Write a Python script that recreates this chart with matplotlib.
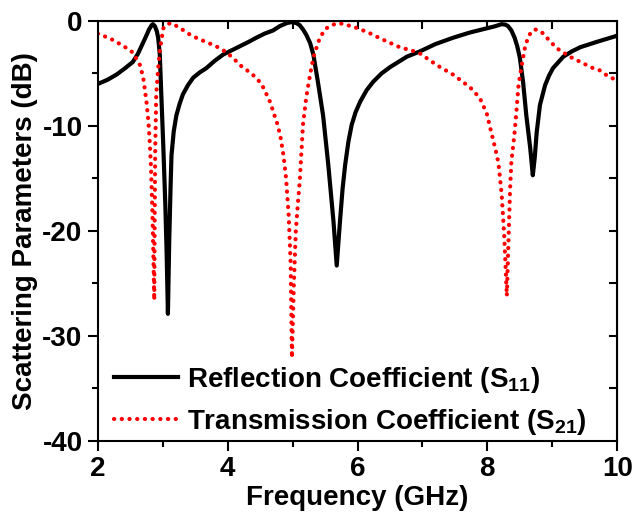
import matplotlib
matplotlib.use("Agg")
import matplotlib.pyplot as plt

plt.rcParams["font.family"] = "Liberation Sans"
plt.rcParams["font.weight"] = "bold"
plt.rcParams["axes.unicode_minus"] = False
plt.rcParams["mathtext.fontset"] = "custom"
plt.rcParams["mathtext.rm"] = "Liberation Sans:bold"
plt.rcParams["mathtext.default"] = "regular"

# S11 (reflection)
s11_f = [2.0, 2.15, 2.29, 2.42, 2.54, 2.62, 2.68, 2.74, 2.79, 2.83, 2.85, 2.88,
         2.91, 2.93, 2.955, 2.98, 3.01, 3.04, 3.06, 3.08, 3.10, 3.12, 3.135, 3.17,
         3.21, 3.26, 3.31, 3.39, 3.47, 3.57, 3.67, 3.80, 3.93, 4.06, 4.19, 4.32,
         4.44, 4.57, 4.70, 4.80, 4.91, 4.99, 5.06, 5.11, 5.16, 5.21, 5.27, 5.32,
         5.39, 5.47, 5.55, 5.63, 5.68, 5.73, 5.77, 5.81, 5.86, 5.91, 5.97, 6.04,
         6.14, 6.24, 6.37, 6.5, 6.63, 6.76, 6.96, 7.2, 7.47, 7.73, 7.99, 8.12,
         8.22, 8.28, 8.32, 8.37, 8.42, 8.46, 8.50, 8.55, 8.60, 8.66, 8.70, 8.73,
         8.76, 8.81, 8.89, 8.95, 9.01, 9.17, 9.30, 9.43, 9.68, 10.0]
s11_db = [-6.0, -5.6, -5.1, -4.5, -3.9, -3.1, -2.3, -1.5, -0.8, -0.4, -0.3, -0.5,
          -1.0, -1.6, -3.2, -7.3, -12.1, -17.5, -22.0, -27.9, -21.0, -16.0, -12.8, -10.5,
          -9.0, -7.9, -7.0, -6.1, -5.4, -4.9, -4.5, -3.8, -3.2, -2.8, -2.4, -2.0,
          -1.6, -1.2, -0.9, -0.5, -0.2, -0.1, -0.2, -0.4, -0.8, -1.3, -2.1, -3.2,
          -5.8, -9.0, -13.7, -19.1, -23.3, -19.1, -16.0, -13.7, -11.5, -9.9, -8.7, -7.7,
          -6.6, -5.8, -5.0, -4.4, -3.9, -3.4, -2.9, -2.2, -1.6, -1.1, -0.7, -0.5,
          -0.3, -0.35, -0.5, -0.9, -1.6, -2.4, -3.5, -5.8, -9.0, -12.1, -14.7, -13.0,
          -10.6, -8.0, -6.1, -5.2, -4.5, -3.4, -2.9, -2.5, -2.0, -1.4]

# S21 (transmission)
s21_f = [2.0, 2.2, 2.4, 2.54, 2.65, 2.70, 2.75, 2.78, 2.80, 2.82, 2.84, 2.855, 2.87,
         2.875, 2.885, 2.90, 2.93, 2.96, 3.01, 3.07, 3.13, 3.25, 3.42, 3.55, 3.67,
         3.82, 3.96, 4.08, 4.19, 4.32, 4.44, 4.53, 4.6, 4.66, 4.7, 4.76, 4.81, 4.86,
         4.90, 4.94, 4.97, 4.99, 5.02, 5.05, 5.08, 5.11, 5.14, 5.16, 5.21, 5.27, 5.32,
         5.37, 5.42, 5.47, 5.52, 5.60, 5.70, 5.80, 5.90, 6.01, 6.2, 6.4, 6.65, 6.94,
         7.22, 7.47, 7.73, 7.88, 7.99, 8.06, 8.12, 8.17, 8.22, 8.26, 8.30, 8.33, 8.35,
         8.37, 8.42, 8.45, 8.48, 8.53, 8.58, 8.62, 8.66, 8.73, 8.80, 8.86, 8.96, 9.07,
         9.17, 9.27, 9.40, 9.53, 9.63, 9.73, 9.82, 9.91, 10.0]
s21_db = [-1.2, -1.7, -2.4, -3.0, -4.2, -5.4, -7.7, -9.6, -11.5, -14.0, -18.0, -22.0, -26.6,
          -20.0, -12.0, -7.0, -4.5, -2.6, -0.7, -0.3, -0.2, -0.6, -1.3, -1.7, -2.0,
          -2.4, -2.9, -3.5, -4.2, -4.8, -5.4, -6.1, -7.0, -7.8, -8.6, -9.7, -10.9, -12.8,
          -15.0, -18.5, -23.0, -32.1, -25.0, -20.0, -17.5, -15.3, -12.1, -9.9, -7.3, -5.1, -3.5,
          -2.5, -1.6, -1.1, -0.7, -0.4, -0.2, -0.3, -0.5, -0.7, -1.2, -1.8, -2.5, -3.0,
          -4.2, -5.1, -6.3, -7.3, -8.8, -10.6, -12.1, -13.5, -16.5, -20.5, -26.2, -20.0, -16.0,
          -13.4, -10.6, -8.4, -6.1, -4.2, -2.5, -1.7, -1.2, -0.8, -0.9, -1.2, -1.9, -2.6,
          -3.0, -3.4, -3.8, -4.2, -4.5, -4.7, -5.1, -5.4, -5.7]

fig = plt.figure(figsize=(6.35, 5.12), dpi=100)
ax = fig.add_axes([0.154, 0.139, 0.818, 0.82])

ax.plot(s11_f, s11_db, color="black", lw=3, solid_joinstyle="round",
        label="Reflection Coefficient (S$_{11}$)")
ax.plot(s21_f, s21_db, color="#ff0000", lw=3, linestyle=(0, (0.05, 1.8)),
        dash_capstyle="round", label="Transmission Coefficient (S$_{21}$)")

ax.set_xlim(2, 10)
ax.set_ylim(-40, 0)
ax.set_xticks([2, 4, 6, 8, 10])
ax.set_xticks([3, 5, 7, 9], minor=True)
ax.set_yticks([-40, -30, -20, -10, 0])
ax.set_yticks([-35, -25, -15, -5], minor=True)
ax.tick_params(which="major", direction="out", length=7, width=1.5, labelsize=20, pad=4)
ax.tick_params(which="minor", direction="out", length=4, width=1.5)
for sp in ax.spines.values():
    sp.set_linewidth(1.5)

top = ax.secondary_xaxis("top")
top.set_xticks([3, 4, 5, 6, 7, 8, 9])
top.tick_params(direction="in", length=6, width=1.5, labeltop=False)
right = ax.secondary_yaxis("right")
right.set_yticks([-35, -30, -25, -20, -15, -10, -5])
right.tick_params(direction="in", length=6, width=1.5, labelright=False)

ax.set_xlabel("Frequency (GHz)", fontsize=20, fontweight="bold", labelpad=2)
ax.set_ylabel("Scattering Parameters (dB)", fontsize=20, fontweight="bold", labelpad=3)

ax.legend(loc="lower left", bbox_to_anchor=(0.0, -0.03), frameon=False, fontsize=20,
          handlelength=2.3, handletextpad=0.3, labelspacing=0.43,
          borderpad=0.4, borderaxespad=0.2)

fig.savefig("out.png", dpi=100)
